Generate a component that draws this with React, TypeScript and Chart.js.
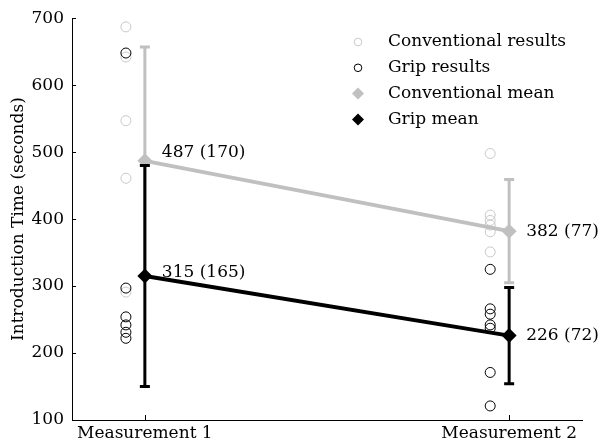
import React, { useEffect, useRef } from "react";
import { Chart, registerables } from "chart.js";
Chart.register(...registerables);

// ---- data ----
const categories = ["Measurement 1", "Measurement 2"];
const conventionalResults1 = [687, 642, 547, 461, 291];
const conventionalResults2 = [498, 406, 398, 391, 381, 351];
const gripResults1 = [648, 297, 254, 242, 231, 222];
const gripResults2 = [325, 266, 258, 242, 237, 171, 121];
const conventionalMean = [487, 382];
const conventionalSD = [170, 77];
const gripMean = [315, 226];
const gripSD = [165, 72];
const yTicks = [100, 200, 300, 400, 500, 600, 700];
const legendLabels = ["Conventional results", "Grip results", "Conventional mean", "Grip mean"];

// ---- style ----
const GRAY = "#c0c0c0";
const LIGHT_GRAY = "#c8c8c8";
const BLACK = "#000000";
const FONT = "'DejaVu Serif', serif";
const JITTER = -0.052;
const LABEL_DY = [[-8, -3], [0, 0]]; // [category][conventional, grip]

const pts = (vals: number[], cat: number) => vals.map((v) => ({ x: cat + 1 + JITTER, y: v }));
const meanPts = (vals: number[]) => vals.map((v, i) => ({ x: i + 1, y: v }));

export default function App() {
  const ref = useRef<HTMLCanvasElement | null>(null);
  useEffect(() => {
    if (!ref.current) return;
    const errorBars = {
      id: "errorBars",
      beforeDatasetDraw(chart: any, args: any) {
        const ds = chart.data.datasets[args.index];
        if (!ds.sd) return;
        const ctx = chart.ctx;
        const xs = chart.scales.x, ys = chart.scales.y;
        ctx.save();
        ctx.strokeStyle = ds.borderColor;
        ds.data.forEach((p: any, i: number) => {
          const x = xs.getPixelForValue(p.x);
          const yTop = ys.getPixelForValue(p.y + ds.sd[i]);
          const yBot = ys.getPixelForValue(p.y - ds.sd[i]);
          ctx.lineWidth = 3;
          ctx.beginPath();
          ctx.moveTo(x, yTop);
          ctx.lineTo(x, yBot);
          ctx.stroke();
          ctx.lineWidth = 3;
          ctx.beginPath();
          ctx.moveTo(x - 5, yTop);
          ctx.lineTo(x + 5, yTop);
          ctx.moveTo(x - 5, yBot);
          ctx.lineTo(x + 5, yBot);
          ctx.stroke();
        });
        ctx.restore();
      },
    };
    const valueLabels = {
      id: "valueLabels",
      afterDatasetsDraw(chart: any) {
        const ctx = chart.ctx;
        const xs = chart.scales.x, ys = chart.scales.y;
        ctx.save();
        ctx.font = `17px ${FONT}`;
        ctx.fillStyle = BLACK;
        ctx.textAlign = "left";
        ctx.textBaseline = "middle";
        categories.forEach((_, i) => {
          const x = xs.getPixelForValue(i + 1) + 17;
          ctx.fillText(`${conventionalMean[i]} (${conventionalSD[i]})`, x, ys.getPixelForValue(conventionalMean[i]) + LABEL_DY[i][0]);
          ctx.fillText(`${gripMean[i]} (${gripSD[i]})`, x, ys.getPixelForValue(gripMean[i]) + LABEL_DY[i][1]);
        });
        ctx.restore();
      },
    };
    const innerTicks = {
      id: "innerTicks",
      afterDraw(chart: any) {
        const ctx = chart.ctx;
        const xs = chart.scales.x, ys = chart.scales.y;
        const a = chart.chartArea;
        ctx.save();
        ctx.strokeStyle = BLACK;
        ctx.lineWidth = 1;
        ctx.beginPath();
        yTicks.forEach((t) => {
          const y = Math.round(ys.getPixelForValue(t)) + 0.5;
          ctx.moveTo(a.left, y);
          ctx.lineTo(a.left + 4, y);
        });
        categories.forEach((_, i) => {
          const x = Math.round(xs.getPixelForValue(i + 1)) + 0.5;
          ctx.moveTo(x, a.bottom);
          ctx.lineTo(x, a.bottom - 5);
        });
        ctx.stroke();
        ctx.restore();
      },
    };
    const customLegend = {
      id: "customLegend",
      afterDraw(chart: any) {
        const ctx = chart.ctx;
        const sx = 358, tx = 388, y0 = 42, dy = 25.8;
        ctx.save();
        ctx.font = `17px ${FONT}`;
        ctx.textAlign = "left";
        ctx.textBaseline = "middle";
        legendLabels.forEach((lab, i) => {
          const y = y0 + i * dy;
          const color = i === 0 ? LIGHT_GRAY : i === 2 ? GRAY : BLACK;
          if (i < 2) {
            ctx.strokeStyle = color;
            ctx.lineWidth = 1;
            ctx.fillStyle = "#fff";
            ctx.beginPath();
            ctx.arc(sx, y, 3.8, 0, Math.PI * 2);
            ctx.fill();
            ctx.stroke();
          } else {
            ctx.fillStyle = color;
            ctx.beginPath();
            ctx.moveTo(sx, y - 6);
            ctx.lineTo(sx + 6, y);
            ctx.lineTo(sx, y + 6);
            ctx.lineTo(sx - 6, y);
            ctx.closePath();
            ctx.fill();
          }
          ctx.fillStyle = BLACK;
          ctx.fillText(lab, tx, y);
        });
        ctx.restore();
      },
    };

    const circleDs = (data: any[], color: string, order: number) => ({
      type: "scatter",
      data,
      showLine: false,
      pointStyle: "circle",
      pointRadius: 5,
      borderWidth: 1,
      borderColor: color,
      backgroundColor: "rgba(255,255,255,0)",
      order,
    });
    const meanDs = (vals: number[], sd: number[], color: string, order: number) => ({
      type: "line",
      data: meanPts(vals),
      sd,
      showLine: true,
      borderColor: color,
      backgroundColor: color,
      borderWidth: 4,
      pointStyle: "rectRot",
      pointRadius: 7.5,
      pointBorderWidth: 0,
      pointBackgroundColor: color,
      order,
    });

    const chart = new Chart(ref.current, {
      type: "scatter",
      data: {
        datasets: [
          meanDs(gripMean, gripSD, BLACK, 0),
          meanDs(conventionalMean, conventionalSD, GRAY, 1),
          circleDs([...pts(gripResults1, 0), ...pts(gripResults2, 1)], BLACK, 2),
          circleDs([...pts(conventionalResults1, 0), ...pts(conventionalResults2, 1)], LIGHT_GRAY, 3),
        ] as any,
      },
      options: {
        animation: false,
        responsive: false,
        devicePixelRatio: 1,
        layout: { padding: { top: 18, right: 16, bottom: 0, left: 0 } },
        plugins: { legend: { display: false }, tooltip: { enabled: false } },
        scales: {
          x: {
            type: "linear",
            min: 0.8,
            max: 2.2,
            afterBuildTicks: (s: any) => {
              s.ticks = categories.map((_, i) => ({ value: i + 1 }));
            },
            afterFit: (s: any) => {
              s.height = 25;
            },
            ticks: {
              autoSkip: false,
              maxRotation: 0,
              padding: 3,
              color: BLACK,
              font: { family: FONT, size: 17 },
              callback: (v: any) => categories[Math.round(v) - 1] ?? "",
            },
            grid: { display: false, drawTicks: false },
            border: { display: true, color: BLACK, width: 1 },
          },
          y: {
            min: 100,
            max: 700,
            afterBuildTicks: (s: any) => {
              s.ticks = yTicks.map((v) => ({ value: v }));
            },
            afterFit: (s: any) => {
              s.width = 72;
            },
            ticks: {
              padding: 8,
              color: BLACK,
              font: { family: FONT, size: 17 },
            },
            grid: { display: false, drawTicks: false },
            border: { display: true, color: BLACK, width: 1 },
            title: {
              display: true,
              text: "Introduction Time (seconds)",
              color: BLACK,
              font: { family: FONT, size: 17 },
              padding: { top: 8, bottom: 0 },
            },
          },
        },
      },
      plugins: [errorBars, valueLabels, innerTicks, customLegend],
    } as any);
    return () => chart.destroy();
  }, []);
  return (
    <div style={{ position: "fixed", left: 0, top: 0, width: 598, height: 445, background: "#fff" }}>
      <canvas ref={ref} width={598} height={445} />
    </div>
  );
}
